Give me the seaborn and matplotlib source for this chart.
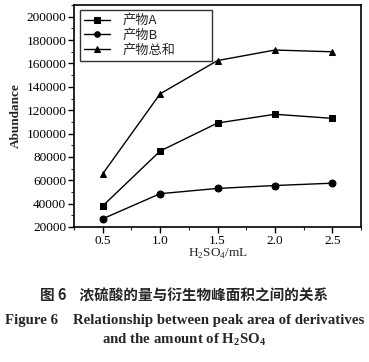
import matplotlib
matplotlib.use("Agg")

import pandas as pd
import matplotlib.pyplot as plt
import seaborn as sns
from matplotlib.ticker import MultipleLocator

# dados
volume_h2so4 = [0.5, 1.0, 1.5, 2.0, 2.5]
produto_a = [38000, 85000, 109000, 116500, 113000]
produto_b = [27000, 48500, 53000, 55500, 57500]
produto_total = [65500, 134000, 162500, 171500, 170000]

series_nomes = ["产物A", "产物B", "产物总和"]
marcadores = ["s", "o", "^"]

sns.set_theme(style="ticks")
plt.rcParams["font.family"] = ["Liberation Serif", "Noto Sans CJK SC"]
plt.rcParams["mathtext.fontset"] = "custom"
plt.rcParams["mathtext.rm"] = "Liberation Serif"
plt.rcParams["mathtext.bf"] = "Liberation Serif:bold"


def montar_tabela():
    df = pd.DataFrame({
        "H2SO4": volume_h2so4 * 3,
        "Abundance": produto_a + produto_b + produto_total,
        "serie": [n for n in series_nomes for _ in volume_h2so4],
    })
    return df


def grafico(df):
    fig = plt.figure(figsize=(3.69, 3.62), dpi=100)
    ax = fig.add_axes([0.2005, 0.373, 0.778, 0.613])

    sns.lineplot(
        data=df, x="H2SO4", y="Abundance", hue="serie", style="serie",
        markers=marcadores, dashes=False, palette=["black"] * 3,
        markersize=5, linewidth=1.0, markeredgecolor="black",
        ax=ax,
    )

    ax.set_xlim(0.25, 2.75)
    ax.set_ylim(20000, 210000)
    ax.set_xticks(volume_h2so4)
    ax.set_xticklabels(["0.5", "1.0", "1.5", "2.0", "2.5"])
    ax.set_yticks(range(20000, 200001, 20000))
    ax.xaxis.set_minor_locator(MultipleLocator(0.25))
    ax.yaxis.set_minor_locator(MultipleLocator(10000))
    ax.tick_params(which="major", length=4, width=1, labelsize=9.5, pad=1.5, colors="black")
    ax.tick_params(which="minor", length=2, width=0.8)
    for s in ax.spines.values():
        s.set_linewidth(1.2)
        s.set_color("black")

    ax.set_xlabel(r"H$_2$SO$_4$/mL", fontsize=9.5, labelpad=0)
    ax.set_ylabel("Abundance", fontsize=9.5, fontweight="bold", labelpad=3)

    leg = ax.legend(
        loc="upper left", bbox_to_anchor=(0.021, 0.75, 0.46, 0.227),
        mode="expand", borderaxespad=0, frameon=True,
        fancybox=False, edgecolor="black",
        prop={"family": ["Noto Sans CJK SC"], "size": 9.5},
        markerscale=0.8,
        handlelength=2.0, handletextpad=0.9, borderpad=0.3, labelspacing=0.15,
    )
    leg.get_frame().set_linewidth(1.0)

    fig.text(0.5, 0.185, "图 6    浓硫酸的量与衍生物峰面积之间的关系",
             ha="center", va="center", fontsize=10.5, fontweight="bold",
             family=["Noto Sans CJK SC"])
    fig.text(0.5, 0.116, "Figure 6    Relationship between peak area of derivatives",
             ha="center", va="center", fontsize=10.7, fontweight="bold")
    fig.text(0.5, 0.061, r"and the amount of H$_\mathbf{2}$SO$_\mathbf{4}$",
             ha="center", va="center", fontsize=10.7, fontweight="bold")

    fig.savefig("out.png", dpi=100)


def main():
    df = montar_tabela()
    grafico(df)


if __name__ == "__main__":
    main()
